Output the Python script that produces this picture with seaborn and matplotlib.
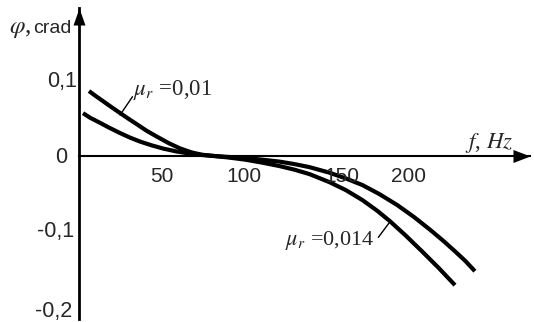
import matplotlib.pyplot as plt
import seaborn as sns
import pandas as pd

# curve mu_r = 0,01 (upper on the left, outer on the right)
f_a = [6.2, 10, 15, 20, 25, 30, 35, 41, 47, 54, 61, 68, 74, 80, 90, 100, 110, 121, 130,
       139, 151, 161, 171, 181, 192, 202, 212, 220, 227, 233, 238.7]
phi_a = [0.0857, 0.0795, 0.0718, 0.0640, 0.0565, 0.0490, 0.0418, 0.0330, 0.0255, 0.0170,
         0.0098, 0.0045, 0.0015, 0.0, -0.0015, -0.0030, -0.0050, -0.0077, -0.0110,
         -0.0150, -0.0223, -0.0300, -0.0388, -0.0505, -0.0653, -0.0810, -0.0984,
         -0.1132, -0.1270, -0.1393, -0.1527]

# curve mu_r = 0,014 (lower on the left, inner on the right)
f_b = [2.6, 7, 12.8, 18, 24.9, 31, 37, 44, 51, 59, 67, 74, 80.3, 90, 100, 110, 121, 130,
       139, 151, 161, 171, 180, 187.5, 197, 207, 217, 226.7]
phi_b = [0.0564, 0.0502, 0.0437, 0.0376, 0.0301, 0.0240, 0.0188, 0.0138, 0.0095, 0.0057,
         0.0029, 0.0011, 0.0, -0.0022, -0.0050, -0.0088, -0.0136, -0.0184, -0.0242,
         -0.0348, -0.0455, -0.0587, -0.0730, -0.0865, -0.1055, -0.1268, -0.1487, -0.1712]

x_ticks = [50, 100, 150, 200]
x_tick_labels = ["50", "100", "150", "200"]
y_ticks = [0.1, -0.1, -0.216]
y_label_vals = [0.1, 0, -0.1, -0.216]
y_tick_labels = ["0,1", "0", "-0,1", "-0,2"]

sns.set_style("white")
plt.rcParams['font.family'] = ['Liberation Sans', 'DejaVu Sans']
plt.rcParams['mathtext.fontset'] = 'stix'

df = pd.concat([
    pd.DataFrame({'f': f_a, 'phi': phi_a, 'mu': '0,01'}),
    pd.DataFrame({'f': f_b, 'phi': phi_b, 'mu': '0,014'}),
])

fig = plt.figure(figsize=(5.34, 3.22), dpi=100)
ax = fig.add_axes([78.7 / 534, 3 / 322, (530 - 78.7) / 534, 311 / 322])

sns.lineplot(data=df, x='f', y='phi', units='mu', estimator=None, sort=False,
             color='black', lw=3, legend=False, ax=ax)
for ln in ax.lines:
    ln.set_solid_capstyle('butt')
    ln.set_solid_joinstyle('round')

ax.set_xlim(0, 271.9)
ax.set_ylim(-0.216, 0.1956)
ax.set_xlabel('')
ax.set_ylabel('')

for s in ['top', 'right']:
    ax.spines[s].set_visible(False)
ax.spines['bottom'].set_position(('data', 0))
ax.spines['bottom'].set_linewidth(1.5)
ax.spines['left'].set_linewidth(2)
ax.spines['bottom'].set_color('black')
ax.spines['left'].set_color('black')

ax.set_xticks(x_ticks)
ax.set_xticklabels([])
ax.set_yticks(y_ticks)
ax.set_yticklabels([])
ax.tick_params(axis='x', direction='inout', length=10, width=1.5, color='black')
ax.tick_params(axis='y', direction='inout', length=8, width=1.5, color='black')

# tick labels (pixel offsets from tick position)
x_offsets = [0, -1, 14, -2]
for v, lab, dx in zip(x_ticks, x_tick_labels, x_offsets):
    ax.annotate(lab, xy=(v, 0), xytext=(dx, -26), textcoords='offset pixels',
                ha='center', va='baseline', fontsize=15)
y_offsets = [(-2, -7), (-11, -7), (-5, -6), (-6, 2)]
for v, lab, (dx, dy) in zip(y_label_vals, y_tick_labels, y_offsets):
    ax.annotate(lab, xy=(0, v), xytext=(dx, dy), textcoords='offset pixels',
                ha='right', va='baseline', fontsize=15.5)

# arrow heads
ax.plot([1], [0], transform=ax.get_yaxis_transform(), clip_on=False, color='black',
        marker=[(0, 0), (-17, 6.5), (-17, -6.5)], markersize=24.5, markeredgewidth=0)
ax.plot([0], [1], transform=ax.get_xaxis_transform(), clip_on=False, color='black',
        marker=[(0, 0), (-6, -17), (6, -17)], markersize=24.5, markeredgewidth=0)

# axis titles
fig.text(9 / 534, 1 - 33 / 322, r'$\varphi$,', fontsize=18, family='Liberation Serif', va='baseline')
fig.text(33 / 534, 1 - 33 / 322, 'crad', fontsize=14, va='baseline')
fig.text(465 / 534, 1 - 148 / 322, r'$f$, $Hz$', fontsize=16.5, family='Liberation Serif', va='baseline')

# curve labels with leader lines
fig.text(133 / 534, 1 - 95 / 322, r'$\mu_r$ =0,01', fontsize=16.5, family='Liberation Serif', va='baseline')
fig.text(285 / 534, 1 - 245 / 322, r'$\mu_r$ =0,014', fontsize=16, family='Liberation Serif', va='baseline')
ax.plot([24.9, 32.4], [0.054, 0.0782], color='black', lw=1)
ax.plot([180.5, 187.5], [-0.108, -0.0874], color='black', lw=1)

fig.savefig('out.png', dpi=100)
